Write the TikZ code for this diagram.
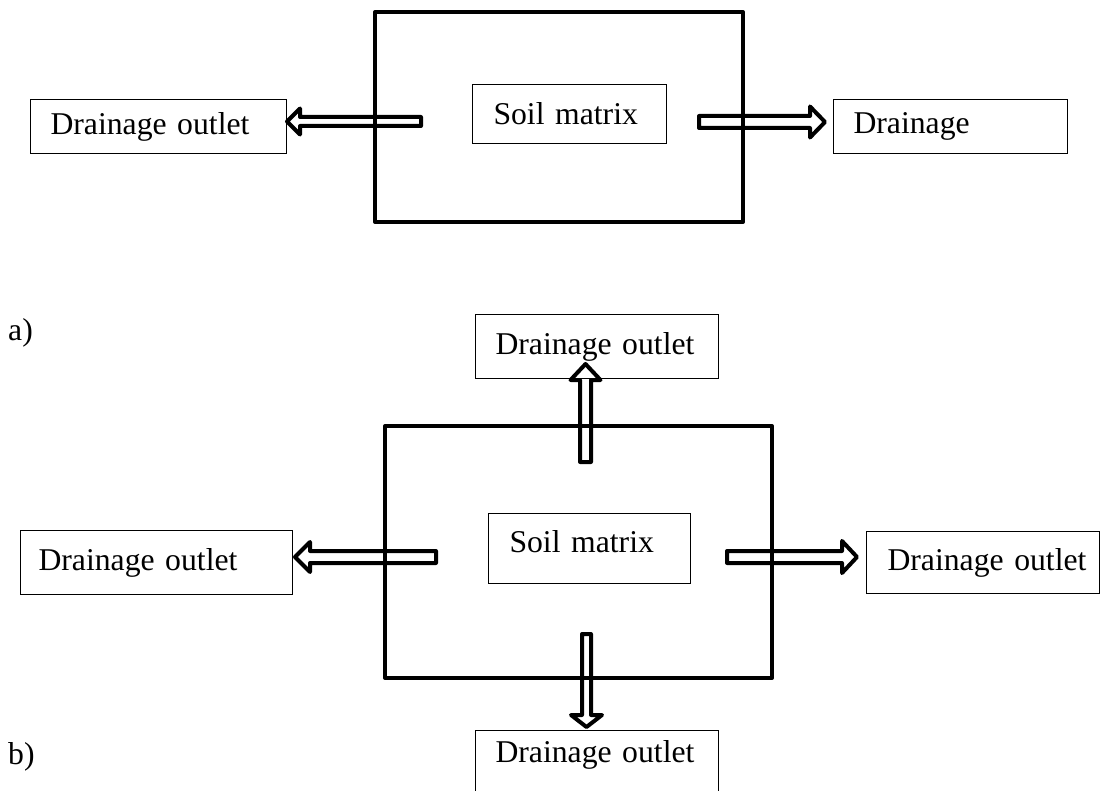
\documentclass[tikz,border=0pt]{standalone}
\usepackage{fontspec}
\setmainfont{Liberation Serif}
\tikzset{
  every picture/.style={x=1pt,y=-1pt},
  txt/.style={font=\fontsize{31.7}{38}\selectfont},
  outbox/.style={draw, line width=1pt, txt, align=left, anchor=north west, inner ysep=0pt},
  bigbox/.style={draw, line width=4pt, line join=round},
  blockarrow/.style={draw, line width=4pt, line join=round}
}
% #1 tail point, #2 rotation, #3 length, #4 shaft half, #5 head half, #6 head length
\newcommand{\blockarr}[6]{%
  \draw[blockarrow, shift={#1}, rotate=#2]
    (0,-#4) -- ({#3-#6},-#4) -- ({#3-#6},-#5) -- (#3,0) -- ({#3-#6},#5)
    -- ({#3-#6},#4) -- (0,#4) -- cycle;}
\begin{document}
\begin{tikzpicture}
\useasboundingbox (0,0) rectangle (1102,791);
% ---------- a) ----------
\draw[bigbox] (375,12) rectangle (743,222);
\node[outbox, minimum height=59pt, text width=152pt, inner xsep=21pt] (tS) at (472,84) {\mbox{Soil matrix}};
\node[outbox, minimum height=54pt, text width=216pt, inner xsep=20pt] (tL) at (30,99) {\mbox{Drainage outlet}};
\node[outbox, minimum height=54pt, text width=194pt, inner xsep=20pt] (tR) at (833,99) {\mbox{Drainage}};
\blockarr{(421,121.5)}{180}{134}{4.5}{13}{13}
\blockarr{(699,122)}{0}{126}{6}{15.5}{15}
\node[txt, anchor=west, inner sep=0pt] (la) at (8,333) {a)};
% ---------- b) ----------
\draw[bigbox] (385,426) rectangle (772,678);
\node[outbox, minimum height=70pt, text width=160pt, inner xsep=21pt, text depth=14pt] (bS) at (488,513) {\mbox{Soil matrix}};
\node[outbox, minimum height=64pt, text width=203pt, inner xsep=20pt] (bT) at (475,314) {\mbox{Drainage outlet}};
\node[outbox, minimum height=64pt, text width=236pt, inner xsep=18pt] (bL) at (20,530) {\mbox{Drainage outlet}};
\node[outbox, minimum height=62pt, text width=191pt, inner xsep=21pt] (bR) at (866,531) {\mbox{Drainage outlet}};
\node[outbox, minimum height=64pt, text width=203pt, inner xsep=20pt, text depth=22pt] (bB) at (475,730) {\mbox{Drainage outlet}};
\blockarr{(585.5,462)}{90}{98}{5.5}{15}{16}
\blockarr{(586.5,634)}{-90}{93}{4.5}{15.5}{12}
\blockarr{(436,557)}{180}{141}{6}{15}{15}
\blockarr{(727,557)}{0}{130}{6}{16}{15}
\node[txt, anchor=west, inner sep=0pt] (lb) at (8,757) {b)};
\end{tikzpicture}
\end{document}
